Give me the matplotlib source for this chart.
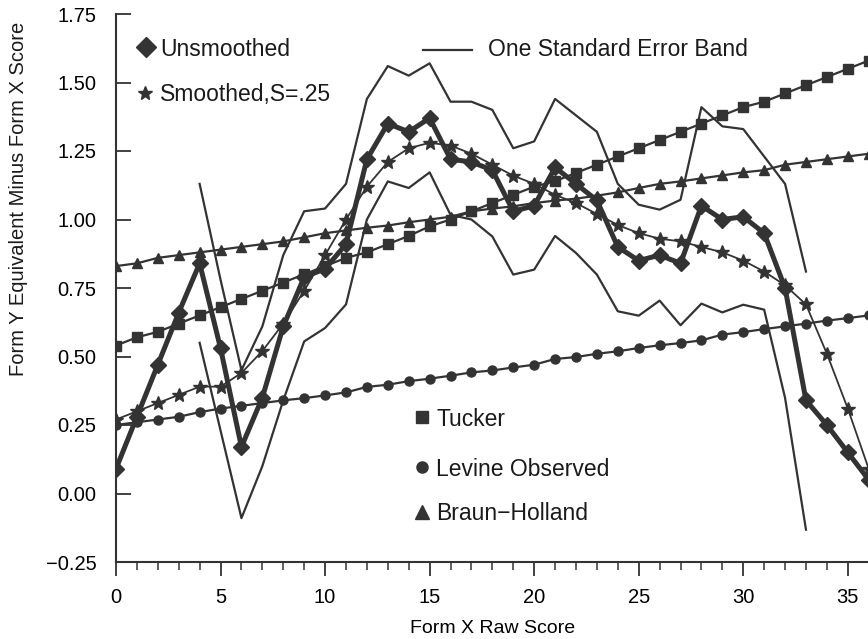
import matplotlib
matplotlib.use("Agg")
import matplotlib.pyplot as plt
from matplotlib.lines import Line2D
from matplotlib.ticker import MultipleLocator

plt.rcParams["font.family"] = ["Liberation Sans", "DejaVu Sans"]

# raw score points
scores = list(range(37))
band_scores = list(range(4, 34))

tucker = [0.54, 0.57, 0.59, 0.62, 0.65, 0.68, 0.71, 0.74, 0.77, 0.80, 0.83, 0.86,
          0.88, 0.91, 0.94, 0.975, 1.00, 1.03, 1.06, 1.09, 1.12, 1.14, 1.17, 1.20,
          1.23, 1.26, 1.29, 1.32, 1.35, 1.38, 1.41, 1.43, 1.46, 1.49, 1.52, 1.55, 1.58]
levine = [0.25, 0.26, 0.27, 0.28, 0.297, 0.31, 0.32, 0.33, 0.34, 0.348, 0.358, 0.369,
          0.389, 0.397, 0.41, 0.419, 0.43, 0.442, 0.449, 0.46, 0.47, 0.491, 0.498, 0.51,
          0.519, 0.531, 0.541, 0.549, 0.559, 0.58, 0.589, 0.60, 0.61, 0.62, 0.631, 0.64, 0.65]
braun = [0.83, 0.84, 0.86, 0.87, 0.88, 0.89, 0.90, 0.91, 0.92, 0.935, 0.95, 0.96,
         0.97, 0.978, 0.99, 1.00, 1.01, 1.03, 1.04, 1.048, 1.06, 1.069, 1.076, 1.087,
         1.099, 1.115, 1.13, 1.139, 1.15, 1.161, 1.172, 1.18, 1.20, 1.21, 1.22, 1.23, 1.24]
unsmoothed = [0.09, 0.28, 0.47, 0.66, 0.84, 0.53, 0.17, 0.35, 0.61, 0.79, 0.82, 0.91,
              1.22, 1.35, 1.32, 1.37, 1.22, 1.21, 1.18, 1.03, 1.05, 1.19, 1.13, 1.07,
              0.90, 0.85, 0.87, 0.84, 1.05, 1.00, 1.01, 0.95, 0.75, 0.34, 0.25, 0.15, 0.05]
smoothed = [0.27, 0.30, 0.33, 0.36, 0.39, 0.39, 0.44, 0.52, 0.62, 0.74, 0.87, 1.00,
            1.12, 1.21, 1.26, 1.28, 1.27, 1.24, 1.20, 1.16, 1.13, 1.09, 1.06, 1.02,
            0.98, 0.95, 0.93, 0.92, 0.90, 0.88, 0.85, 0.81, 0.76, 0.69, 0.51, 0.31, 0.09]
band_upper = [1.13, 0.78, 0.45, 0.61, 0.87, 1.03, 1.04, 1.13, 1.44, 1.56, 1.525, 1.57,
              1.43, 1.43, 1.40, 1.26, 1.285, 1.44, 1.38, 1.32, 1.13, 1.054, 1.036, 1.072,
              1.41, 1.34, 1.33, 1.23, 1.13, 0.81]
band_lower = [0.55, 0.23, -0.09, 0.10, 0.34, 0.555, 0.604, 0.69, 1.00, 1.139, 1.115, 1.172,
              1.017, 1.00, 0.938, 0.799, 0.817, 0.94, 0.878, 0.799, 0.665, 0.649, 0.704, 0.614,
              0.693, 0.661, 0.689, 0.671, 0.349, -0.132]

INK = "#333333"
W, H = 868, 639

fig = plt.figure(figsize=(W / 100, H / 100), dpi=100)
ax = fig.add_axes([116 / W, 1 - 562 / H, (868.7 - 116) / W, (562 - 14) / H])

ax.plot(band_scores, band_upper, color=INK, lw=1.6)
ax.plot(band_scores, band_lower, color=INK, lw=1.6)
ax.plot(scores, levine, color=INK, lw=1.6, marker="o", ms=6.5)
ax.plot(scores, braun, color=INK, lw=1.6, marker="^", ms=7)
ax.plot(scores, tucker, color=INK, lw=1.6, marker="s", ms=6.5)
ax.plot(scores, smoothed, color=INK, lw=1.3, marker="*", ms=10)
ax.plot(scores, unsmoothed, color=INK, lw=3.6, marker="D", ms=8)

ax.set_xlim(0, 36)
ax.set_ylim(-0.25, 1.75)
ax.xaxis.set_major_locator(MultipleLocator(5))
ax.xaxis.set_minor_locator(MultipleLocator(1))
ax.yaxis.set_major_locator(MultipleLocator(0.25))
ax.yaxis.set_major_formatter(plt.FuncFormatter(lambda v, _: f"{v:.2f}".replace("-", "\u2212")))

for s in ("top", "right"):
    ax.spines[s].set_visible(False)
for s in ("left", "bottom"):
    ax.spines[s].set_color(INK)
    ax.spines[s].set_linewidth(1.5)

ax.tick_params(axis="x", which="major", direction="out", length=10, width=1.3,
               color=INK, labelsize=14.5, pad=9)
ax.tick_params(axis="x", which="minor", direction="out", length=5.5, width=1.1, color=INK)
ax.tick_params(axis="y", direction="in", length=11, width=1.3, color=INK,
               labelsize=14.5, pad=14)

ax.set_xlabel("Form X Raw Score", fontsize=14, labelpad=9)


def fx(px):
    return px / W


def fy(py):
    return 1 - py / H


fig.text(fx(19), fy(199), "Form Y Equivalent Minus Form X Score", fontsize=14.5,
         rotation=90, ha="center", va="center", color="#1a1a1a")

# key entries placed in figure pixel positions
keys = [
    (146, 47, "D", 10.5, "Unsmoothed", 160),
    (145, 93, "*", 10, "Smoothed,S=.25", 160),
    (422, 417, "s", 8.5, "Tucker", 436),
    (422, 467, "o", 8, "Levine Observed", 436),
    (422, 512, "^", 9.5, "Braun\u2212Holland", 436),
]
for mx, my, mk, ms, label, tx in keys:
    fig.add_artist(Line2D([fx(mx)], [fy(my)], marker=mk, ms=ms, color=INK, ls="none"))
    fig.text(fx(tx), fy(my + 2), label, fontsize=16.5, va="center", ha="left", color="#1a1a1a")

fig.add_artist(Line2D([fx(423), fx(472)], [fy(50), fy(50)], color=INK, lw=1.6))
fig.text(fx(488), fy(49), "One Standard Error Band", fontsize=16.5, va="center",
         ha="left", color="#1a1a1a")

fig.savefig("out.png", dpi=100)
